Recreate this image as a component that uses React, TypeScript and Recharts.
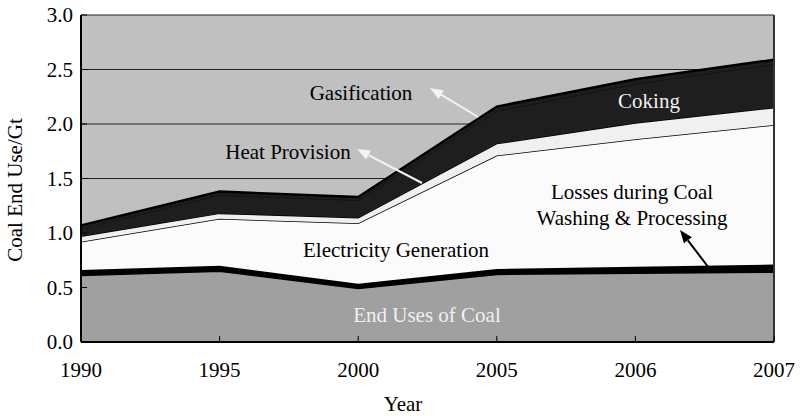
import { AreaChart, Area, XAxis, YAxis, CartesianGrid, ReferenceLine } from 'recharts';

// categories and stacked layer amounts (Gt), bottom to top
const years = ['1990', '1995', '2000', '2005', '2006', '2007'];
const endUses = [0.61, 0.65, 0.49, 0.62, 0.63, 0.64];
const washingLosses = [0.05, 0.05, 0.045, 0.05, 0.06, 0.07];
const electricity = [0.26, 0.43, 0.555, 1.04, 1.17, 1.28];
const heat = [0.05, 0.05, 0.05, 0.11, 0.15, 0.16];
const coking = [0.07, 0.17, 0.16, 0.3, 0.36, 0.4];
const gasification = [0.03, 0.03, 0.03, 0.04, 0.04, 0.04];
const yTicks = [0, 0.5, 1.0, 1.5, 2.0, 2.5, 3.0];

const W = 806;
const H = 416;
const FONT = '"Liberation Serif", "Times New Roman", serif';

function Arrow({ x1, y1, x2, y2, color }: { x1: number; y1: number; x2: number; y2: number; color: string }) {
  // line from tail (x1,y1) to head (x2,y2) with a filled head
  const ang = Math.atan2(y2 - y1, x2 - x1);
  const len = 13;
  const half = 5;
  const bx = x2 - len * Math.cos(ang);
  const by = y2 - len * Math.sin(ang);
  const px = -Math.sin(ang) * half;
  const py = Math.cos(ang) * half;
  return (
    <g>
      <line x1={x1} y1={y1} x2={bx} y2={by} stroke={color} strokeWidth={2} />
      <polygon points={`${x2},${y2} ${bx + px},${by + py} ${bx - px},${by - py}`} fill={color} />
    </g>
  );
}

export default function App() {
  const data = years.map((year, i) => ({
    year,
    endUses: endUses[i],
    washingLosses: washingLosses[i],
    electricity: electricity[i],
    heat: heat[i],
    coking: coking[i],
    gasification: gasification[i],
  }));

  const tickStyle = { fill: '#000', fontSize: 21, fontFamily: FONT };

  return (
    <div style={{ position: 'absolute', left: 0, top: 0, width: W, height: H, background: '#fff' }}>
      <AreaChart width={W} height={H} data={data} margin={{ top: 15, right: 32, left: 0, bottom: 0 }}>
        <CartesianGrid
          vertical={false}
          stroke="#222"
          strokeWidth={1}
          fill="#c0c0c0"
          fillOpacity={1}
          horizontalValues={yTicks}
        />
        <XAxis
          dataKey="year"
          height={74}
          tick={tickStyle}
          tickSize={-6}
          tickMargin={26}
          tickLine={{ stroke: '#000', strokeWidth: 1 }}
          axisLine={{ stroke: '#000', strokeWidth: 2 }}
          interval={0}
        />
        <YAxis
          width={81}
          domain={[0, 3]}
          ticks={yTicks}
          tickFormatter={(v: number) => v.toFixed(1)}
          tick={tickStyle}
          tickSize={-6}
          tickMargin={14}
          tickLine={{ stroke: '#000', strokeWidth: 1 }}
          axisLine={{ stroke: '#000', strokeWidth: 2 }}
          allowDataOverflow
        />
        <Area type="linear" dataKey="endUses" stackId="a" fill="#a0a0a0" fillOpacity={1} stroke="#000" strokeWidth={1.5} isAnimationActive={false} />
        <Area type="linear" dataKey="washingLosses" stackId="a" fill="#000" fillOpacity={1} stroke="#000" strokeWidth={1.5} isAnimationActive={false} />
        <Area type="linear" dataKey="electricity" stackId="a" fill="#fbfbfb" fillOpacity={1} stroke="#000" strokeWidth={1.5} isAnimationActive={false} />
        <Area type="linear" dataKey="heat" stackId="a" fill="#f0f0f0" fillOpacity={1} stroke="#000" strokeWidth={1.5} isAnimationActive={false} />
        <Area type="linear" dataKey="coking" stackId="a" fill="#1e1e1e" fillOpacity={1} stroke="#111" strokeWidth={1.5} isAnimationActive={false} />
        <Area type="linear" dataKey="gasification" stackId="a" fill="#1e1e1e" fillOpacity={1} stroke="#000" strokeWidth={2.5} isAnimationActive={false} />
        <ReferenceLine x="2007" stroke="#333" strokeWidth={2} />
      </AreaChart>

      {/* titles and callouts */}
      <svg
        width={W}
        height={H}
        style={{ position: 'absolute', left: 0, top: 0, pointerEvents: 'none' }}
        fontFamily={FONT}
        fontSize={21}
      >
        <text x={22} y={190} textAnchor="middle" transform="rotate(-90 22 190)">Coal End Use/Gt</text>
        <text x={403} y={411} textAnchor="middle">Year</text>

        <text x={361} y={100} textAnchor="middle" fill="#000">Gasification</text>
        <Arrow x1={478} y1={117} x2={430} y2={88} color="#f4f4f4" />
        <text x={288} y={159} textAnchor="middle" fill="#000">Heat Provision</text>
        <Arrow x1={422} y1={183} x2={357} y2={149} color="#f4f4f4" />
        <text x={649} y={108} textAnchor="middle" fill="#f0f0f0">Coking</text>
        <text x={632} y={199} textAnchor="middle" fill="#000">Losses during Coal</text>
        <text x={632} y={225} textAnchor="middle" fill="#000">Washing &amp; Processing</text>
        <Arrow x1={712} y1={272} x2={680} y2={230} color="#000" />
        <text x={396} y={257} textAnchor="middle" fill="#000">Electricity Generation</text>
        <text x={427} y={322} textAnchor="middle" fill="#f0f0f0">End Uses of Coal</text>
      </svg>
    </div>
  );
}
